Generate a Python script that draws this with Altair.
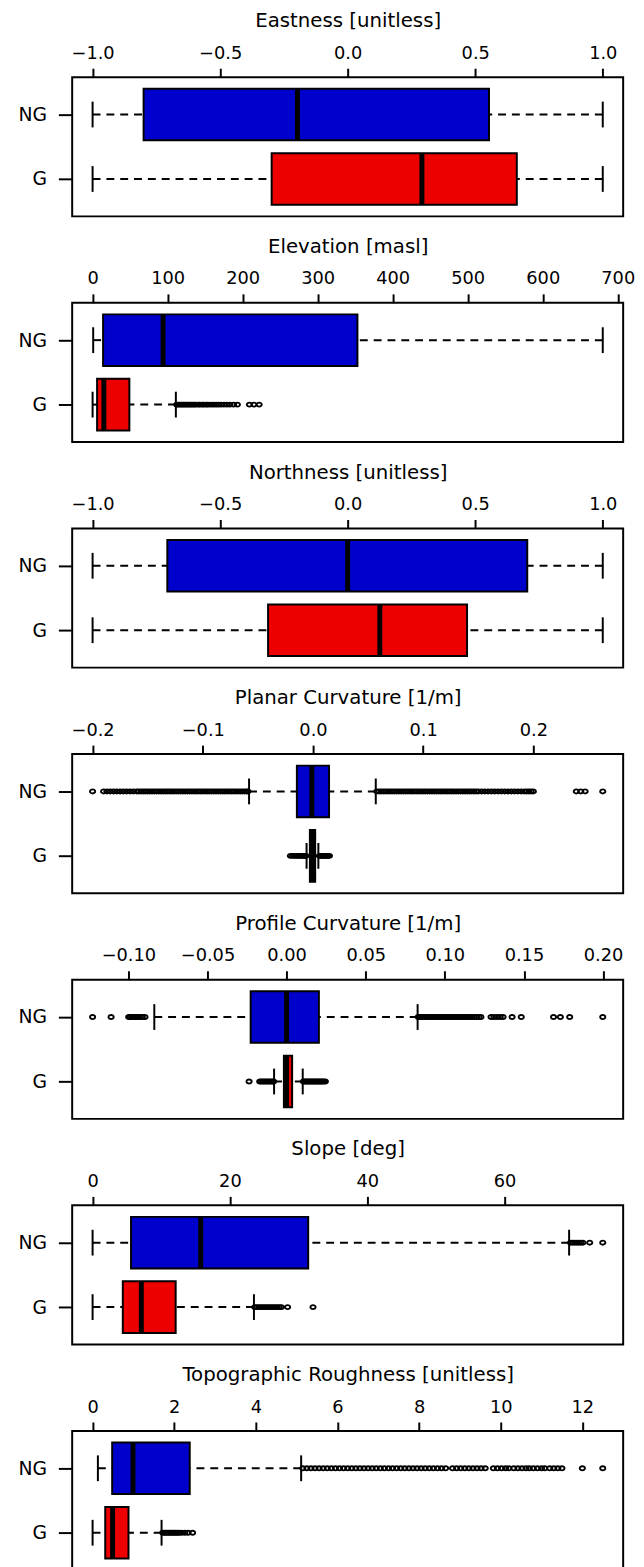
import altair as alt
import pandas as pd

GROUPS = ["NG", "G"]
GROUP_POS = [2, 1]
COLORS = ["#0000CD", "#EE0000"]
FONT = "DejaVu Sans"

# stats per group: [lower whisker, Q1, median, Q3, upper whisker]
east_title = "Eastness [unitless]"
east_ticks = [-1.0, -0.5, 0.0, 0.5, 1.0]
east_ng = [-1.0, -0.80, -0.197, 0.554, 1.0]
east_g = [-1.0, -0.298, 0.291, 0.663, 1.0]
east_ng_out = []
east_g_out = []

elev_title = "Elevation [masl]"
elev_ticks = [0, 100, 200, 300, 400, 500, 600, 700]
elev_ng = [0.8, 14, 94, 353, 680]
elev_g = [0.0, 6, 15, 49, 111]
elev_ng_out = []
elev_g_out = [112, 114, 116, 118, 120, 122, 124, 126, 128, 130, 132, 134, 136, 138, 141, 143,
              146, 148, 151, 153, 156, 159, 162, 165, 168, 171, 175, 179, 183, 188, 193, 209, 215, 222]

north_title = "Northness [unitless]"
north_ticks = [-1.0, -0.5, 0.0, 0.5, 1.0]
north_ng = [-1.0, -0.707, 0.0, 0.704, 1.0]
north_g = [-1.0, -0.312, 0.126, 0.468, 1.0]
north_ng_out = []
north_g_out = []

plan_title = "Planar Curvature [1/m]"
plan_ticks = [-0.2, -0.1, 0.0, 0.1, 0.2]
plan_ng = [-0.058, -0.0146, -0.001, 0.0146, 0.057]
plan_g = [-0.0058, -0.0028, -0.0002, 0.0020, 0.0049]
plan_ng_out = [-0.200, -0.190, -0.187, -0.184, -0.181, -0.178, -0.175, -0.172, -0.169, -0.166,
               -0.163, -0.160, -0.158, -0.156, -0.154, -0.152, -0.150, -0.148, -0.146, -0.144,
               -0.142, -0.140, -0.138, -0.136, -0.134, -0.132, -0.130, -0.128, -0.126, -0.124,
               -0.122, -0.120, -0.118, -0.116, -0.114, -0.112, -0.110, -0.108, -0.106, -0.104,
               -0.102, -0.100, -0.098, -0.096, -0.094, -0.092, -0.090, -0.088, -0.086, -0.084,
               -0.082, -0.080, -0.078, -0.076, -0.074, -0.072, -0.070, -0.068, -0.066, -0.064,
               -0.062, -0.060, -0.059,
               0.058, 0.060, 0.062, 0.064, 0.066, 0.068, 0.070, 0.072, 0.074, 0.076, 0.078,
               0.080, 0.082, 0.084, 0.086, 0.088, 0.090, 0.092, 0.094, 0.096, 0.098, 0.100,
               0.102, 0.104, 0.106, 0.108, 0.110, 0.112, 0.114, 0.116, 0.118, 0.120, 0.122,
               0.124, 0.126, 0.128, 0.130, 0.132, 0.134, 0.136, 0.138, 0.140, 0.142, 0.144,
               0.146, 0.148, 0.150, 0.153, 0.156, 0.159, 0.162, 0.165, 0.168, 0.171, 0.174,
               0.177, 0.180, 0.183, 0.186, 0.189, 0.192, 0.194, 0.196, 0.198, 0.200,
               0.239, 0.243, 0.247, 0.263]
plan_g_out = [-0.0205, -0.0185, -0.0168, -0.0152, -0.0138, -0.0124, -0.0110, -0.0097, -0.0085,
              -0.0073, -0.0063, 0.0058, 0.0067, 0.0077, 0.0087, 0.0097, 0.0107, 0.0117, 0.0127,
              0.0137, 0.0150]

prof_title = "Profile Curvature [1/m]"
prof_ticks = [-0.10, -0.05, 0.0, 0.05, 0.10, 0.15, 0.20]
prof_ng = [-0.0836, -0.0227, 0.0, 0.0204, 0.0828]
prof_g = [-0.0079, -0.0017, 0.0, 0.0035, 0.0102]
prof_ng_out = [-0.1226, -0.1109, -0.0998, -0.0988, -0.0978, -0.0968, -0.0958, -0.0948, -0.0938,
               -0.0926, -0.0912, -0.0895,
               0.0832, 0.0845, 0.0858, 0.0871, 0.0884, 0.0897, 0.0910, 0.0923, 0.0936, 0.0949,
               0.0962, 0.0975, 0.0988, 0.1001, 0.1014, 0.1027, 0.1040, 0.1053, 0.1066, 0.1079,
               0.1092, 0.1105, 0.1118, 0.1131, 0.1144, 0.1157, 0.1170, 0.1185, 0.1200, 0.1215,
               0.1228, 0.1292, 0.1310, 0.1330, 0.1350, 0.1368, 0.1425, 0.1483, 0.1687, 0.1730,
               0.1789, 0.1998]
prof_g_out = [-0.0237, -0.0170, -0.0160, -0.0150, -0.0140, -0.0130, -0.0120, -0.0110, -0.0100,
              -0.0090, -0.0082, 0.0106, 0.0114, 0.0122, 0.0130, 0.0138, 0.0146, 0.0154, 0.0162,
              0.0170, 0.0178, 0.0186, 0.0194, 0.0202, 0.0210, 0.0218, 0.0226, 0.0235, 0.0245]

slope_title = "Slope [deg]"
slope_ticks = [0, 20, 40, 60]
slope_ng = [0.0, 5.6, 15.75, 31.4, 69.4]
slope_g = [0.0, 4.4, 7.1, 12.1, 23.5]
slope_ng_out = [69.6, 69.9, 70.2, 70.5, 70.8, 71.1, 71.4, 72.4, 74.3]
slope_g_out = [23.6, 23.9, 24.2, 24.5, 24.8, 25.1, 25.4, 25.7, 26.0, 26.3, 26.6, 26.9, 27.2,
               27.5, 28.4, 32.1]

rough_title = "Topographic Roughness [unitless]"
rough_ticks = [0, 2, 4, 6, 8, 10, 12]
rough_ng = [0.13, 0.48, 0.99, 2.38, 5.11]
rough_g = [0.0, 0.31, 0.49, 0.88, 1.69]
rough_ng_out = [5.15, 5.25, 5.35, 5.45, 5.55, 5.65, 5.75, 5.85, 5.95, 6.05, 6.15, 6.25, 6.35,
                6.45, 6.55, 6.65, 6.75, 6.85, 6.95, 7.05, 7.15, 7.25, 7.35, 7.45, 7.55, 7.65,
                7.75, 7.85, 7.95, 8.05, 8.15, 8.25, 8.35, 8.45, 8.55, 8.65,
                8.82, 8.92, 9.02, 9.12, 9.22, 9.32, 9.42, 9.52, 9.62,
                9.82, 9.92, 10.02, 10.12, 10.20, 10.32, 10.42, 10.52, 10.62, 10.70,
                10.80, 10.90, 11.00, 11.08, 11.20, 11.30, 11.40, 11.50, 12.00, 12.50]
rough_g_out = [1.72, 1.76, 1.80, 1.84, 1.88, 1.92, 1.96, 2.00, 2.04, 2.08, 2.12, 2.18, 2.26,
               2.34, 2.45]

PANELS = [
    (east_title, east_ticks, ".1f", east_ng, east_g, east_ng_out, east_g_out),
    (elev_title, elev_ticks, "d", elev_ng, elev_g, elev_ng_out, elev_g_out),
    (north_title, north_ticks, ".1f", north_ng, north_g, north_ng_out, north_g_out),
    (plan_title, plan_ticks, ".1f", plan_ng, plan_g, plan_ng_out, plan_g_out),
    (prof_title, prof_ticks, ".2f", prof_ng, prof_g, prof_ng_out, prof_g_out),
    (slope_title, slope_ticks, "d", slope_ng, slope_g, slope_ng_out, slope_g_out),
    (rough_title, rough_ticks, "d", rough_ng, rough_g, rough_ng_out, rough_g_out),
]

ELLIPSE = "M-1,0A1,0.78,0,1,1,1,0A1,0.78,0,1,1,-1,0Z"
LW = 2


def panel(title, ticks, fmt, ng, g, ng_out, g_out):
    stats = pd.DataFrame({
        "grp": GROUPS, "pos": GROUP_POS,
        "lo": [ng[0], g[0]], "q1": [ng[1], g[1]], "med": [ng[2], g[2]],
        "q3": [ng[3], g[3]], "hi": [ng[4], g[4]],
    })
    allv = [ng[0], ng[4], g[0], g[4]] + list(ng_out) + list(g_out)
    lo, hi = min(allv), max(allv)
    pad = 0.04 * (hi - lo)
    xs = alt.Scale(domain=[lo - pad, hi + pad], nice=False, zero=False)
    ys = alt.Scale(domain=[0.42, 2.58], nice=False, zero=False)
    xax = alt.Axis(orient="top", values=ticks, format=fmt, title=title, grid=False, domain=False,
                   tickSize=9, tickWidth=LW, tickColor="black", labelPadding=6, labelFontSize=18,
                   labelColor="black", labelFont=FONT, labelFlush=False, labelOverlap=False,
                   titleFont=FONT, titleFontSize=20, titleFontWeight="normal", titleColor="black",
                   titlePadding=15, minExtent=32, maxExtent=32)
    yax = alt.Axis(orient="left", values=[1, 2], labelExpr="datum.value > 1.5 ? 'NG' : 'G'",
                   title=None, grid=False, domain=False, tickSize=14, tickWidth=LW,
                   tickColor="black", labelPadding=12, labelFontSize=19, labelColor="black",
                   labelFont=FONT)

    def X(f):
        return alt.X(f, type="quantitative", scale=xs, axis=xax)

    def Y(f):
        return alt.Y(f, type="quantitative", scale=ys, axis=yax)

    base = alt.Chart(stats).transform_calculate(
        b0="datum.pos - 0.4", b1="datum.pos + 0.4", s0="datum.pos - 0.2", s1="datum.pos + 0.2")
    wl = base.mark_rule(color="black", strokeWidth=LW, strokeDash=[8, 6]).encode(
        x=X("lo"), x2="q1:Q", y=Y("pos"))
    wh = base.mark_rule(color="black", strokeWidth=LW, strokeDash=[8, 6]).encode(
        x=X("hi"), x2="q3:Q", y=Y("pos"))
    sl = base.mark_rule(color="black", strokeWidth=LW).encode(x=X("lo"), y=Y("s0"), y2="s1:Q")
    sh = base.mark_rule(color="black", strokeWidth=LW).encode(x=X("hi"), y=Y("s0"), y2="s1:Q")
    box = base.mark_rect(stroke="black", strokeWidth=LW).encode(
        x=X("q1"), x2="q3:Q", y=Y("b0"), y2="b1:Q",
        fill=alt.Fill("grp:N", scale=alt.Scale(domain=GROUPS, range=COLORS), legend=None))
    med = base.mark_rule(color="black", strokeWidth=5).encode(x=X("med"), y=Y("b0"), y2="b1:Q")
    layers = [wl, wh, sl, sh, box, med]
    if len(ng_out) + len(g_out) > 0:
        outs = pd.DataFrame({
            "grp": ["NG"] * len(ng_out) + ["G"] * len(g_out),
            "pos": [2] * len(ng_out) + [1] * len(g_out),
            "v": list(ng_out) + list(g_out),
        })
        pts = alt.Chart(outs).mark_point(shape=ELLIPSE, filled=False, stroke="black",
                                         strokeWidth=1.9, size=28, opacity=1).encode(
            x=X("v"), y=Y("pos"))
        layers.append(pts)
    return alt.layer(*layers).properties(width=558, height=141)


chart = alt.vconcat(
    *[panel(*p) for p in PANELS],
    spacing=18.5,
    padding={"left": 9, "top": -8, "right": 0, "bottom": 0},
    background="white",
).configure_view(stroke="black", strokeWidth=2)

chart.save("out.html", embed_options={"renderer": "svg", "actions": False})
